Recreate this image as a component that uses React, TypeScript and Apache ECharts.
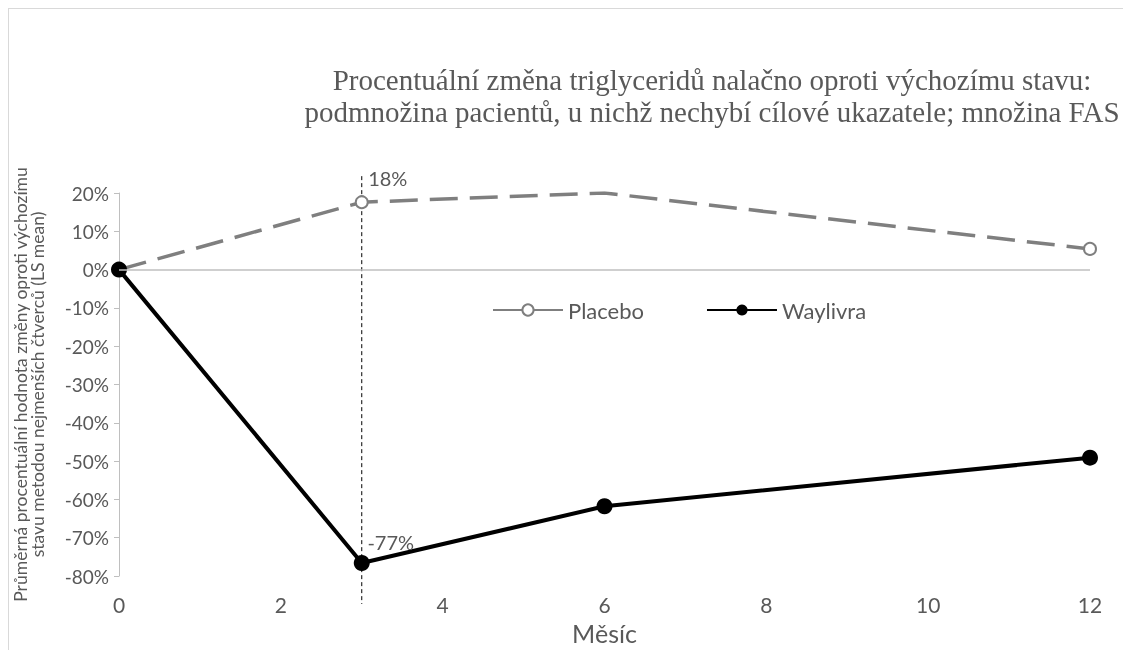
import React, { useEffect, useRef } from "react";
import * as echarts from "echarts";

const months = [0, 3, 6, 12];
const placebo = [0, 17.6, 20, 5.4];
const waylivra = [0, -76.6, -61.8, -49.1];
const refMonth = 3;
const refLineRange = [24.4, -87.3];
const xTicks = { min: 0, max: 12, interval: 2 };
const yTicks = { min: -80, max: 20, interval: 10 };

const titleText =
  "Procentuální změna triglyceridů nalačno oproti výchozímu stavu:\npodmnožina pacientů, u nichž nechybí cílové ukazatele; množina FAS";
const yName =
  "Průměrná procentuální hodnota změny oproti výchozímu\nstavu metodou nejmenších čtverců (LS mean)";
const xName = "Měsíc";

const FONT = "Lato, 'Open Sans', sans-serif";
const GREY_TEXT = "#595959";

export default function App() {
  const ref = useRef<HTMLDivElement>(null);
  useEffect(() => {
    if (!ref.current) return;
    const chart = echarts.init(ref.current, undefined, { renderer: "svg" });
    const placeboData = months.map((m, i) => {
      const item: any = { value: [m, placebo[i]] };
      if (m === 6) item.symbol = "none";
      if (m === refMonth) {
        item.label = {
          show: true,
          formatter: () => `${Math.round(placebo[i])}%`,
          position: "top",
          offset: [26, -2],
          fontSize: 20,
          fontFamily: FONT,
          color: GREY_TEXT,
        };
      }
      return item;
    });
    const waylivraData = months.map((m, i) => {
      const item: any = { value: [m, waylivra[i]] };
      if (m === refMonth) {
        item.label = {
          show: true,
          formatter: () => `${Math.round(waylivra[i])}%`,
          position: "top",
          offset: [29, 2],
          fontSize: 20,
          fontFamily: FONT,
          color: GREY_TEXT,
        };
      }
      return item;
    });
    chart.setOption({
      animation: false,
      backgroundColor: "transparent",
      title: {
        text: titleText,
        left: 707,
        top: 59,
        textAlign: "center",
        textStyle: {
          fontFamily: "'Liberation Serif', 'DejaVu Serif', serif",
          fontWeight: "normal",
          fontSize: 29,
          lineHeight: 32,
          color: GREY_TEXT,
        },
      },
      legend: {
        left: 487,
        top: 294,
        itemWidth: 70,
        itemHeight: 14,
        itemGap: 62,
        textStyle: { fontFamily: FONT, fontSize: 22, color: GREY_TEXT },
        lineStyle: { type: "solid" },
        data: ["Placebo", "Waylivra"],
      },
      grid: { left: 119, right: 33, top: 193, bottom: 67 },
      xAxis: {
        type: "value",
        min: xTicks.min,
        max: xTicks.max,
        interval: xTicks.interval,
        name: xName,
        nameLocation: "middle",
        nameGap: 44,
        nameTextStyle: { fontFamily: FONT, fontSize: 25, color: GREY_TEXT },
        axisLine: { show: false },
        axisTick: { show: false },
        splitLine: { show: false },
        axisLabel: {
          fontFamily: FONT,
          fontSize: 21,
          color: GREY_TEXT,
          margin: 18,
        },
      },
      yAxis: {
        type: "value",
        min: yTicks.min,
        max: yTicks.max,
        interval: yTicks.interval,
        name: yName,
        nameLocation: "middle",
        nameGap: 73,
        nameTextStyle: {
          fontFamily: FONT,
          fontSize: 17.5,
          lineHeight: 17,
          color: GREY_TEXT,
        },
        axisLine: { show: true, lineStyle: { color: "#bfbfbf", width: 1 } },
        axisTick: { show: true, length: 5, lineStyle: { color: "#bfbfbf" } },
        splitLine: { show: false },
        axisLabel: {
          fontFamily: FONT,
          fontSize: 19,
          color: GREY_TEXT,
          margin: 10,
          formatter: (v: number) => `${v}%`,
        },
      },
      series: [
        {
          name: "zero",
          type: "line",
          data: [],
          silent: true,
          markLine: {
            silent: true,
            symbol: "none",
            label: { show: false },
            lineStyle: { color: "#bfbfbf", width: 1.5, type: "solid" },
            data: [{ yAxis: 0 }],
          },
        },
        {
          name: "ref",
          type: "line",
          clip: false,
          silent: true,
          symbol: "none",
          data: refLineRange.map((v) => [refMonth, v]),
          lineStyle: { color: "#000", width: 1, type: [4, 3] },
          z: 1,
        },
        {
          name: "Placebo",
          type: "line",
          data: placeboData,
          symbol: "emptyCircle",
          symbolSize: 12,
          itemStyle: { color: "#7f7f7f", borderColor: "#7f7f7f", borderWidth: 1.5 },
          lineStyle: { color: "#7f7f7f", width: 3.5, type: [28, 12] },
          z: 3,
        },
        {
          name: "Waylivra",
          type: "line",
          data: waylivraData,
          symbol: "circle",
          symbolSize: 16,
          itemStyle: { color: "#000" },
          lineStyle: { color: "#000", width: 4 },
          z: 4,
        },
      ],
    });
    return () => chart.dispose();
  }, []);
  return (
    <div>
      <div
        style={{
          position: "fixed",
          left: 8,
          top: 8,
          width: 1115,
          height: 642,
          borderLeft: "1px solid #d9d9d9",
          borderTop: "1px solid #d9d9d9",
          boxSizing: "border-box",
        }}
      />
      <div
        ref={ref}
        style={{ position: "fixed", left: 0, top: 0, width: 1123, height: 650 }}
      />
    </div>
  );
}
